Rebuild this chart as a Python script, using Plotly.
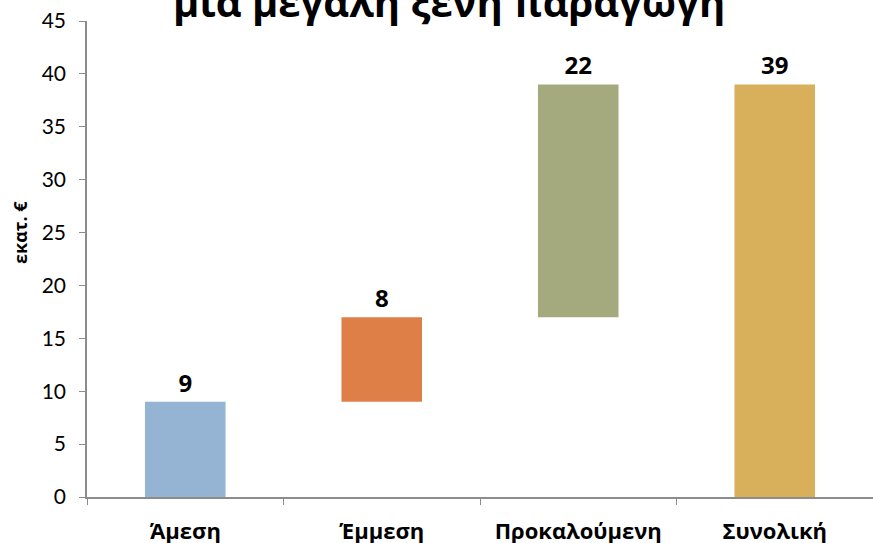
import plotly.graph_objects as go

# Waterfall: direct, indirect, induced effect and total (million euro)
categories = ["Άμεση", "Έμμεση", "Προκαλούμενη", "Συνολική"]
bases = [0, 9, 17, 0]
values = [9, 8, 22, 39]
colors = ["#95B4D3", "#DE7F48", "#A5AA7E", "#D8B05C"]

title_text = "μια μεγάλη ξένη παραγωγή"
y_title = "εκατ. €"
y_ticks = [0, 5, 10, 15, 20, 25, 30, 35, 40, 45]

fig = go.Figure()
fig.add_trace(go.Bar(
    x=categories,
    y=values,
    base=bases,
    marker=dict(color=colors, line=dict(width=0)),
    width=0.41,
    text=[str(v) for v in values],
    textposition="outside",
    textfont=dict(family="Open Sans", size=24, color="black", weight="bold"),
    cliponaxis=False,
))

# title is clipped at the top of the picture, as in the original
fig.add_annotation(
    text=f"<b>{title_text}</b>",
    xref="paper", yref="paper",
    x=0.46, y=1.0, yanchor="bottom", xanchor="center",
    yshift=-10,
    showarrow=False,
    font=dict(family="Open Sans", size=40, color="black"),
)

# y axis title placed by hand (sits a bit above the middle)
fig.add_annotation(
    text=f"<b>{y_title}</b>",
    xref="paper", yref="paper",
    x=-0.085, y=0.555, xanchor="center", yanchor="middle",
    textangle=-90,
    showarrow=False,
    font=dict(family="Open Sans", size=18, color="black"),
)

fig.update_layout(
    width=873,
    height=543,
    margin=dict(l=87, r=0, t=21, b=46, autoexpand=False),
    paper_bgcolor="white",
    plot_bgcolor="white",
    showlegend=False,
    xaxis=dict(
        showline=True, linecolor="#8C8C8C", linewidth=1.5,
        ticks="outside", tickson="boundaries", ticklen=6, tickcolor="#8C8C8C",
        tickfont=dict(family="Open Sans", size=22, color="black", weight="bold"),
        ticklabelstandoff=14,
    ),
    yaxis=dict(
        range=[0, 45],
        tickvals=y_ticks,
        showline=True, linecolor="#8C8C8C", linewidth=1.5,
        ticks="outside", ticklen=6, tickcolor="#8C8C8C",
        showgrid=False, zeroline=False,
        tickfont=dict(family="Lato", size=21, color="black"),
        ticklabelstandoff=9,
    ),
)

fig.write_html(
    "out.html",
    config={"displayModeBar": False},
    post_script="document.body.style.margin='0px';",
)
